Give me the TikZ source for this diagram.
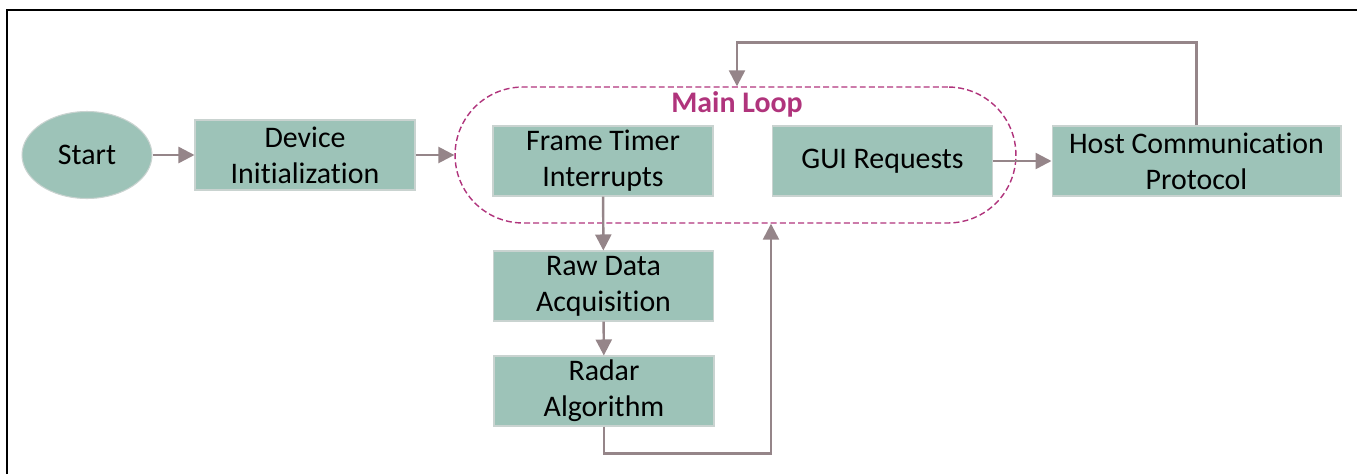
\documentclass[tikz,border=0pt]{standalone}
\usepackage{fontspec}
\setmainfont{Carlito}[Ligatures=NoCommon]
\usetikzlibrary{shapes.geometric,arrows.meta}

\definecolor{boxgreen}{HTML}{9DC3B8}
\definecolor{boxline}{HTML}{C9D3D0}
\definecolor{arrowgray}{HTML}{958589}
\definecolor{loopmag}{HTML}{B0347C}

\tikzset{
    block/.style={rectangle, fill=boxgreen, draw=boxline, line width=0.6pt,
        minimum width=4.4cm, minimum height=1.4cm, inner sep=0pt, align=center,
        font=\fontsize{17}{20.5}\selectfont},
    startnode/.style={ellipse, fill=boxgreen, draw=boxline, line width=0.6pt,
        minimum width=2.6cm, minimum height=1.74cm, inner sep=0pt,
        font=\fontsize{17}{20.5}\selectfont},
    loopbox/.style={rectangle, draw=loopmag, line width=0.8pt,
        dash pattern=on 3.4pt off 1.8pt, rounded corners=1.36cm,
        minimum width=11.22cm, minimum height=2.72cm},
    flow/.style={draw=arrowgray, line width=1.4pt,
        -{Triangle[length=0.32cm,width=0.32cm]}}
}

\begin{document}
\begin{tikzpicture}[x=0.02cm,y=-0.02cm]
    \useasboundingbox (0,0) rectangle (1357,474);
    \draw[line width=1.7pt] (7,474) -- (7,10) -- (1357,10);

    \node[startnode] (start) at (87,155) {Start};
    \node[block] (init) at (305,155) {Device\\Initialization};

    \node[loopbox] (loop) at (735.5,155) {};
    \node[text=loopmag, font=\fontsize{17}{20.5}\selectfont\bfseries] (looptitle) at (737,104) {Main Loop};
    \node[block] (timer) at (603,161) {Frame Timer\\Interrupts};
    \node[block] (gui) at (882.5,161) {GUI Requests};

    \node[block, minimum width=5.78cm] (host) at (1196.5,161) {Host Communication\\Protocol};
    \node[block] (raw) at (603.5,286) {Raw Data\\Acquisition};
    \node[block] (radar) at (604,391) {Radar\\Algorithm};

    \draw[flow] (start) -- (init);
    \draw[flow] (init.east) -- (loop.west);
    \draw[flow] (timer) -- (raw);
    \draw[flow] (raw) -- (radar);
    \draw[flow] (radar.south) -- ++(0,27) -| ([xshift=0.71cm]loop.south);
    \draw[flow] (gui) -- (host);
    \draw[flow] (host.north) -- ++(0,-83) -| ([xshift=0.03cm]loop.north);
\end{tikzpicture}
\end{document}
